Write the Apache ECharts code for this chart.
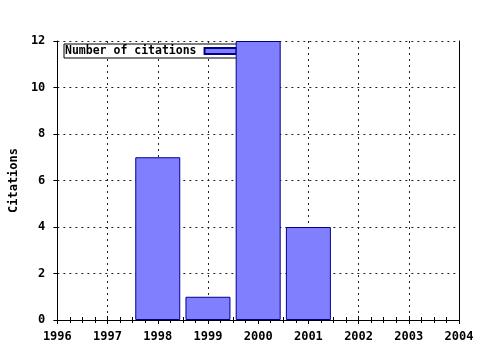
<!DOCTYPE html>
<html><head><meta charset="utf-8">
<script src="https://cdn.jsdelivr.net/npm/echarts@6/dist/echarts.min.js"></script>
<style>html,body{margin:0;padding:0;background:#fff}#c{width:480px;height:350px}</style>
</head><body><div id="c"></div>
<script>
const years = [1998, 1999, 2000, 2001];
const citations = [7, 1, 12, 4];
const seriesName = 'Number of citations';
const yTitle = 'Citations';

const font = 'DejaVu Sans Mono';
const lblStyle = {fontFamily: font, fontWeight: 'bold', fontSize: 12, color: '#000'};
const chart = echarts.init(document.getElementById('c'));
chart.setOption({
  animation: false,
  backgroundColor: '#fff',
  grid: {left: 57, right: 21, top: 41, bottom: 30},
  legend: {
    z: 1, left: 64, top: 44, align: 'right', orient: 'horizontal',
    backgroundColor: '#fff', borderColor: '#000', borderWidth: 1, borderRadius: 0,
    padding: [0, 3, 0, 1], itemWidth: 32, itemHeight: 6, icon: 'rect',
    selectedMode: false,
    textStyle: Object.assign({}, lblStyle, {fontSize: 11.5, lineHeight: 13, padding: [1, 3, 0, 0]}),
    data: [seriesName]
  },
  xAxis: [{
    type: 'value', min: 1996, max: 2004, interval: 1, position: 'bottom',
    axisLine: {show: true, lineStyle: {color: '#000', width: 1}},
    axisTick: {show: true, inside: true, length: 4, lineStyle: {color: '#000'}},
    minorTick: {show: true, splitNumber: 4, length: 3, lineStyle: {color: '#000'}},
    axisLabel: Object.assign({margin: 11, formatter: v => String(v)}, lblStyle),
    splitLine: {show: true, lineStyle: {color: '#222', type: [2, 4], width: 1}}
  }, {
    type: 'value', min: 1996, max: 2004, interval: 1, position: 'top',
    axisLine: {show: true, lineStyle: {color: '#000', width: 1}},
    axisTick: {show: true, inside: true, length: 4, lineStyle: {color: '#000'}},
    minorTick: {show: true, splitNumber: 4, length: 3, lineStyle: {color: '#000'}},
    axisLabel: {show: false}, splitLine: {show: false}
  }],
  yAxis: [{
    type: 'value', min: 0, max: 12, interval: 2, position: 'left',
    name: yTitle, nameLocation: 'middle', nameGap: 37, nameRotate: 90,
    nameTextStyle: lblStyle,
    axisLine: {show: true, lineStyle: {color: '#000', width: 1}},
    axisTick: {show: true, inside: false, length: 4, lineStyle: {color: '#000'}},
    axisLabel: Object.assign({margin: 12}, lblStyle),
    splitLine: {show: true, lineStyle: {color: '#222', type: [2, 4], width: 1}}
  }, {
    type: 'value', min: 0, max: 12, interval: 2, position: 'right',
    axisLine: {show: true, lineStyle: {color: '#000', width: 1}},
    axisTick: {show: false}, axisLabel: {show: false}, splitLine: {show: false}
  }],
  series: [{
    name: seriesName, type: 'bar', z: 2, barWidth: 45,
    itemStyle: {color: '#8080ff', borderColor: '#00008b', borderWidth: 1},
    data: years.map((y, i) => [y, citations[i]])
  }]
});
</script></body></html>
